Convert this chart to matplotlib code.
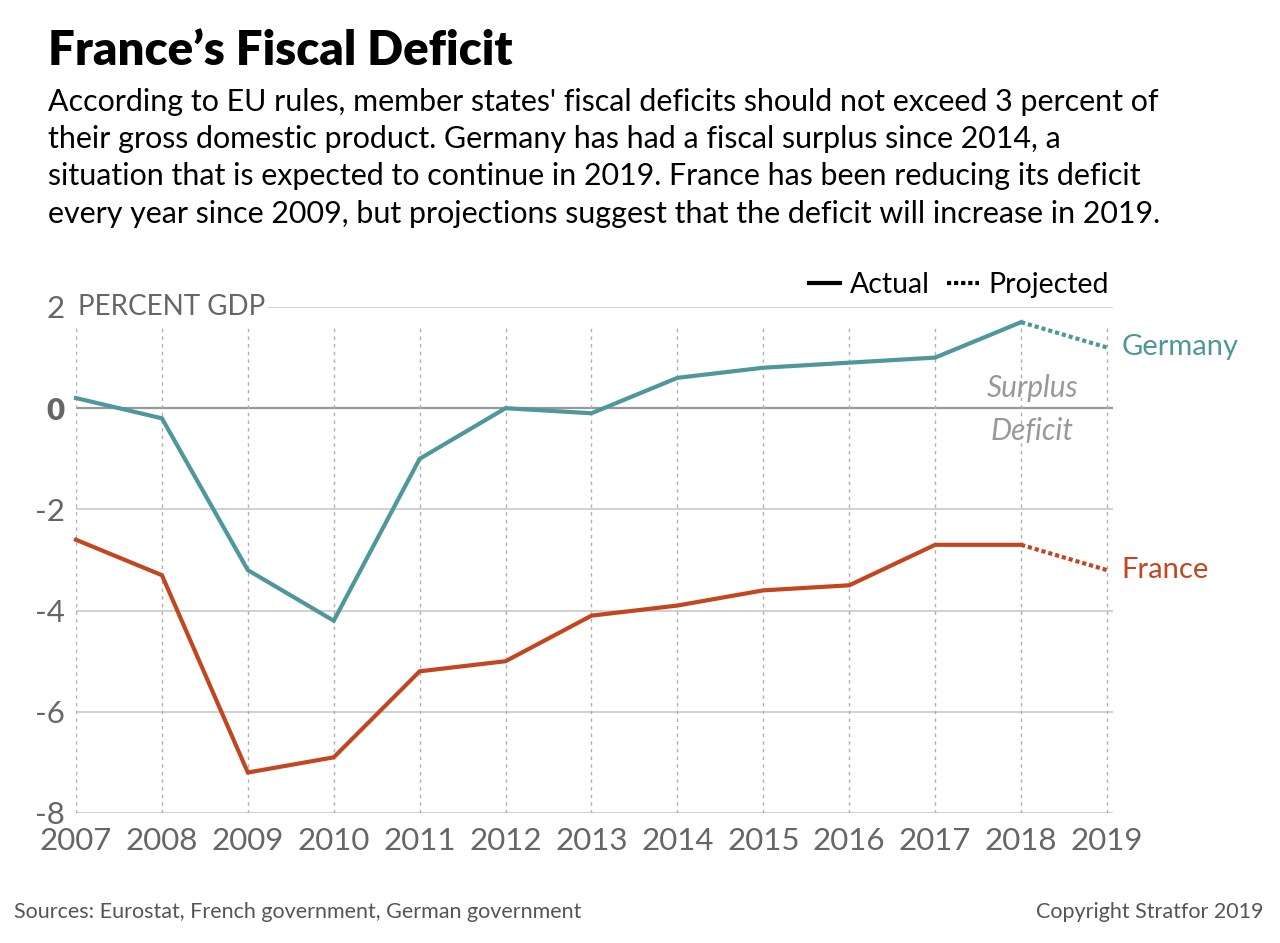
import numpy as np
import matplotlib.pyplot as plt
from matplotlib.lines import Line2D

plt.rcParams['font.family'] = ['Lato', 'DejaVu Sans']

# data (percent of GDP)
years = [2007, 2008, 2009, 2010, 2011, 2012, 2013, 2014, 2015, 2016, 2017, 2018, 2019]
germany = [0.2, -0.2, -3.2, -4.2, -1.0, 0.0, -0.1, 0.6, 0.8, 0.9, 1.0, 1.7, 1.2]
france = [-2.6, -3.3, -7.2, -6.9, -5.2, -5.0, -4.1, -3.9, -3.6, -3.5, -2.7, -2.7, -3.2]
last_actual = 2018

yticks = [2, 0, -2, -4, -6, -8]

GER_COL = '#4e979b'
FRA_COL = '#c2461f'
GRID = '#c8c8c8'
TXT = '#666666'

fig = plt.figure(figsize=(12.8, 9.43), dpi=100)
ax = fig.add_axes([76 / 1280, 1 - 813 / 943, (1113 - 76) / 1280, (813 - 307) / 943])

ax.set_xlim(2007, 2019.07)
ax.set_ylim(-8, 2)

# grid
for y in yticks:
    if y == 0:
        ax.axhline(y, color='#999999', lw=1.6, zorder=1)
    else:
        ax.axhline(y, color=GRID, lw=1.2, zorder=1)
ax.vlines(years, -8, 1.65, colors='#b0b0b0', lw=1, linestyles=(0, (2.5, 3)), zorder=1)

k = years.index(last_actual)
for vals, col in [(germany, GER_COL), (france, FRA_COL)]:
    ax.plot(years[:k + 1], vals[:k + 1], color=col, lw=3, solid_joinstyle='miter', zorder=3, clip_on=False)
    ax.plot(years[k:], vals[k:], color=col, lw=3, linestyle=(0, (1.0, 0.7)), zorder=3, clip_on=False)

ax.text(2019.17, germany[-1], 'Germany', color=GER_COL, fontsize=21, va='center', ha='left')
ax.text(2019.17, france[-1], 'France', color=FRA_COL, fontsize=21, va='center', ha='left')

ax.text(2018.13, 0.4, 'Surplus', color='#999999', fontsize=21.5, style='italic', ha='center', va='center')
ax.text(2018.13, -0.45, 'Deficit', color='#999999', fontsize=21.5, style='italic', ha='center', va='center')

ax.text(2007.02, 2, 'PERCENT GDP', color=TXT, fontsize=20, va='center', ha='left',
        bbox=dict(facecolor='white', edgecolor='none', pad=2), zorder=4)

for s in ax.spines.values():
    s.set_visible(False)
ax.set_yticks(yticks)
ax.set_yticklabels([str(t) for t in yticks])
for lab, t in zip(ax.get_yticklabels(), yticks):
    if t == 0:
        lab.set_fontweight('heavy')
ax.set_xticks(years)
ax.set_xticklabels([str(y) for y in years])
ax.tick_params(axis='both', length=0, labelsize=22.5, labelcolor=TXT)
ax.tick_params(axis='y', pad=8)
ax.tick_params(axis='x', pad=10)

handles = [Line2D([], [], color='black', lw=3),
           Line2D([], [], color='black', lw=3, linestyle=(0, (1.0, 0.7)))]
ax.legend(handles, ['Actual', 'Projected'], loc='lower right', bbox_to_anchor=(1.01, 0.99),
          ncol=2, frameon=False, fontsize=20.5, handlelength=1.1, handletextpad=0.35,
          columnspacing=0.6, borderaxespad=0.1)

fig.text(48 / 1280, 1 - 65 / 943, 'France\u2019s Fiscal Deficit', fontsize=34, fontweight='heavy',
         color='black', va='baseline', ha='left')
fig.text(48 / 1280, 1 - 88 / 943,
         "According to EU rules, member states' fiscal deficits should not exceed 3 percent of\n"
         "their gross domestic product. Germany has had a fiscal surplus since 2014, a\n"
         "situation that is expected to continue in 2019. France has been reducing its deficit\n"
         "every year since 2009, but projections suggest that the deficit will increase in 2019.",
         fontsize=21.9, color='black', va='top', ha='left', linespacing=1.4)

fig.text(14 / 1280, 1 - 918 / 943, 'Sources: Eurostat, French government, German government',
         fontsize=15.5, color='#555555', ha='left', va='baseline')
fig.text(1264 / 1280, 1 - 918 / 943, 'Copyright Stratfor 2019',
         fontsize=15.5, color='#555555', ha='right', va='baseline')

fig.savefig('out.png', dpi=100)
